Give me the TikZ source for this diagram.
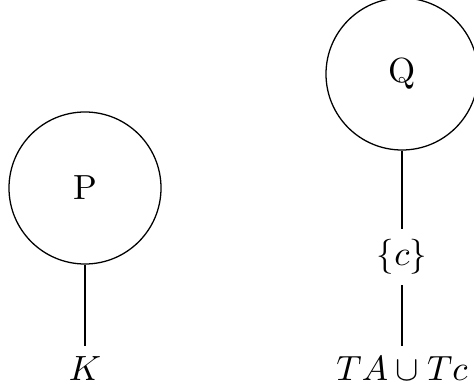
\documentclass[tikz,border=0pt]{standalone}
\begin{document}
\begin{tikzpicture}[x=0.3125pt,y=-0.3125pt,
  font=\fontsize{10.9}{13}\selectfont,
  bigcirc/.style={draw,circle,minimum size=47.5pt,inner sep=0pt},
  lbl/.style={inner sep=3.2pt}]
\useasboundingbox (0,0) rectangle (474,392);
\node[bigcirc] (P) at (85,188) {P};
\node[bigcirc] (Q) at (402,74) {Q};
\node[lbl] (K) at (85,369) {$K$};
\node[lbl] (c) at (402,257) {$\{c\}$};
\node[lbl] (T) at (402,369) {$TA\cup Tc$};
\draw (P) -- (K);
\draw (Q) -- (c);
\draw (c) -- (T);
\end{tikzpicture}
\end{document}
